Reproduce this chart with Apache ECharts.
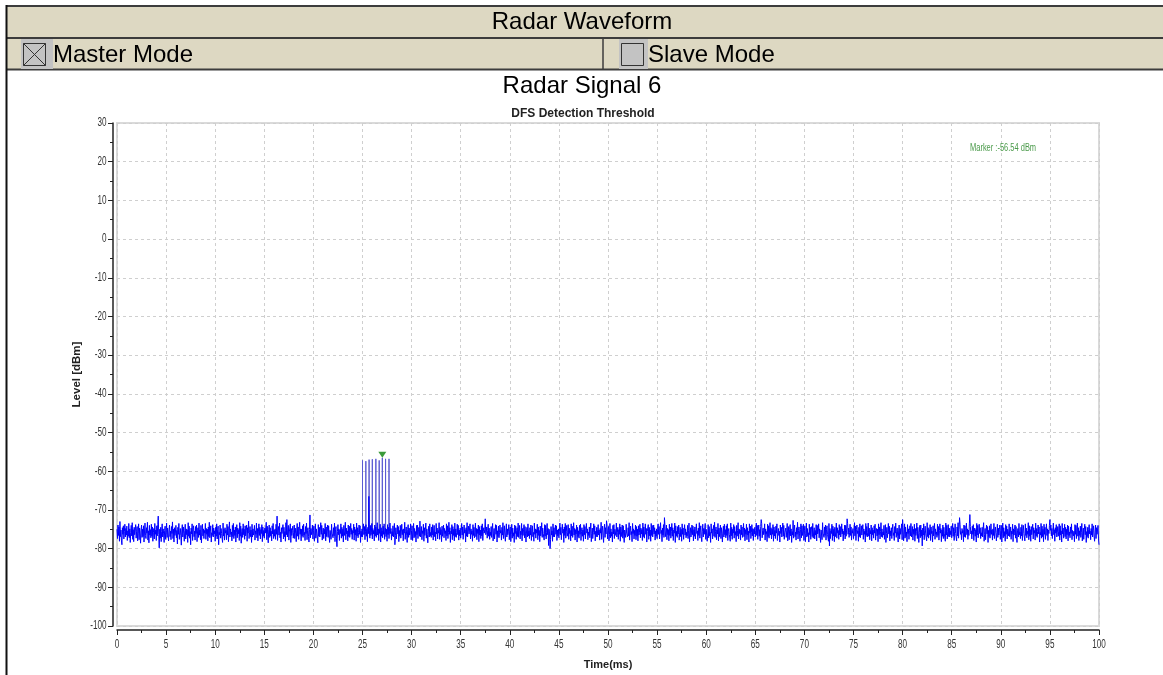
<!DOCTYPE html>
<html>
<head>
<meta charset="utf-8">
<title>Radar Waveform</title>
<script src="https://cdn.jsdelivr.net/npm/echarts@6/dist/echarts.min.js"></script>
<style>
  html, body { margin: 0; padding: 0; background: #ffffff; }
  #chart { width: 1163px; height: 675px; }
</style>
</head>
<body>
<div id="chart"></div>
<script>
// Captured noise floor, one sample every 0.05 ms from 0 to 100 ms (dBm)
const sampleStepMs = 0.05;
const noiseLevel = [
  -75.0,-77.4,-73.9,-76.6,-74.4,-78.1,-73.0,-76.9,-75.2,-77.8,-79.0,-74.6,-76.3,-74.1,-77.5,-75.6,-73.7,-77.0,-74.8,-76.5,
  -74.2,-77.9,-75.4,-76.8,-73.5,-77.2,-74.9,-78.4,-75.8,-74.0,-76.7,-73.3,-77.6,-75.1,-78.2,-74.5,-76.4,-75.9,-73.8,-77.3,
  -75.5,-74.3,-78.0,-76.1,-73.6,-77.7,-74.7,-76.2,-78.6,-75.3,-73.9,-77.1,-75.0,-76.9,-74.1,-78.3,-75.7,-73.4,-76.6,-77.4,
  -74.6,-76.0,-73.2,-77.8,-75.4,-78.5,-74.0,-76.5,-75.1,-77.2,-73.7,-76.8,-74.4,-78.1,-75.9,-74.8,-77.5,-73.5,-76.3,-75.2,
  -77.9,-74.1,-76.7,-73.8,-71.6,-76.4,-79.8,-75.0,-77.3,-74.5,-78.2,-75.6,-73.6,-77.0,-74.9,-76.2,-78.4,-75.3,-74.2,-77.6,
  -75.8,-73.4,-77.1,-74.7,-76.5,-78.0,-75.1,-73.9,-76.9,-75.5,-77.7,-74.3,-76.1,-73.1,-77.4,-75.0,-78.3,-74.6,-76.6,-75.7,
  -74.0,-77.2,-75.3,-78.8,-74.5,-76.3,-73.5,-77.6,-75.9,-74.8,-76.7,-79.1,-75.2,-73.8,-77.0,-74.4,-76.0,-78.1,-75.4,-73.7,
  -77.5,-74.9,-76.4,-75.1,-78.4,-73.3,-76.8,-74.2,-77.3,-75.6,-79.0,-74.7,-76.2,-73.6,-77.9,-75.0,-74.1,-76.9,-75.5,-77.8,
  -74.3,-76.1,-73.9,-78.2,-75.7,-74.6,-77.1,-73.4,-76.5,-75.2,-77.7,-74.0,-78.5,-75.8,-73.7,-76.7,-74.9,-77.4,-75.3,-76.0,
  -73.5,-77.6,-74.8,-76.3,-75.0,-78.0,-74.4,-76.9,-73.2,-77.2,-75.5,-74.1,-78.3,-75.9,-76.6,-73.8,-77.0,-74.7,-76.2,-75.4,
  -78.1,-74.5,-76.8,-73.6,-77.5,-75.1,-74.2,-79.0,-75.8,-76.4,-73.9,-77.3,-74.8,-76.1,-75.6,-78.4,-73.4,-76.7,-75.0,-77.8,
  -74.6,-76.0,-75.3,-77.7,-73.7,-76.5,-74.3,-78.2,-75.4,-73.1,-77.0,-74.9,-76.3,-75.7,-78.0,-74.0,-76.9,-73.5,-77.4,-75.2,
  -76.6,-74.4,-78.3,-75.9,-73.8,-77.2,-74.7,-76.2,-75.1,-77.9,-73.3,-76.8,-74.2,-78.6,-75.5,-74.8,-77.1,-73.6,-76.4,-75.0,
  -77.6,-74.1,-76.7,-75.3,-73.9,-78.1,-74.6,-76.0,-72.9,-77.4,-75.8,-74.3,-76.9,-75.2,-78.4,-73.7,-77.0,-74.9,-76.5,-75.6,
  -74.0,-77.8,-75.4,-76.3,-73.4,-77.2,-74.8,-78.0,-75.7,-73.6,-76.6,-74.5,-77.5,-75.1,-76.1,-73.8,-78.2,-74.4,-76.8,-75.3,
  -77.3,-74.7,-76.0,-75.9,-73.2,-77.7,-74.2,-76.4,-78.5,-75.0,-73.9,-77.1,-74.6,-76.7,-75.5,-78.0,-74.1,-76.2,-73.5,-77.4,
  -75.2,-76.8,-74.9,-77.6,-73.7,-76.3,-71.6,-77.9,-75.4,-74.3,-76.5,-73.4,-77.2,-75.8,-78.3,-74.6,-76.1,-75.0,-73.8,-77.5,
  -74.5,-76.9,-75.6,-78.1,-73.3,-76.4,-72.5,-77.0,-75.1,-74.0,-77.8,-75.7,-76.2,-73.6,-78.4,-74.8,-76.6,-75.3,-74.2,-77.3,
  -75.9,-73.9,-77.4,-74.7,-76.0,-78.2,-75.2,-73.5,-76.8,-74.4,-77.6,-75.5,-73.2,-76.3,-74.9,-78.0,-75.0,-76.7,-74.1,-77.1,
  -73.7,-76.5,-75.8,-77.9,-74.3,-76.1,-73.4,-77.7,-75.3,-74.6,-76.9,-78.3,-75.1,-71.3,-77.2,-74.8,-76.4,-75.6,-73.9,-77.5,
  -75.4,-74.2,-78.1,-76.6,-73.6,-77.3,-74.9,-76.0,-75.7,-78.5,-73.8,-76.8,-74.5,-77.0,-75.2,-73.3,-76.3,-74.0,-77.8,-75.9,
  -74.7,-77.4,-75.0,-76.2,-73.5,-78.0,-74.4,-76.9,-75.5,-73.9,-77.1,-74.1,-76.5,-78.4,-75.3,-74.8,-77.6,-73.7,-76.0,-75.8,
  -77.2,-74.6,-76.7,-73.4,-78.2,-75.1,-74.3,-77.5,-79.5,-75.6,-73.8,-76.4,-74.9,-77.9,-75.2,-76.1,-73.6,-77.3,-74.5,-76.8,
  -75.0,-78.3,-74.0,-76.6,-75.7,-73.2,-77.7,-74.7,-76.2,-75.4,-78.0,-73.9,-76.9,-74.2,-77.1,-75.9,-73.5,-76.3,-74.8,-77.6,
  -75.3,-76.0,-73.7,-77.8,-74.4,-76.5,-75.1,-78.1,-73.4,-76.7,-74.6,-77.2,-75.8,-73.9,-76.3,-74.1,-78.4,-75.5,-76.9,-74.9,
  -77.0,-75.2,-73.6,-76.4,-74.3,-77.7,-75.6,-73.8,-76.8,-75.0,-78.2,-74.5,-76.1,-66.5,-75.4,-77.3,-74.0,-76.6,-75.9,-73.5,
  -77.5,-74.8,-76.2,-75.3,-78.0,-73.9,-76.7,-74.4,-77.1,-75.7,-73.3,-76.5,-74.9,-77.9,-75.1,-76.0,-73.7,-78.3,-74.6,-76.8,
  -75.4,-77.2,-74.2,-76.3,-73.6,-77.6,-75.8,-74.7,-76.9,-75.0,-78.1,-73.8,-76.4,-74.5,-77.4,-75.5,-73.4,-76.1,-74.8,-77.8,
  -75.6,-76.7,-74.1,-77.0,-75.2,-73.5,-79.0,-76.6,-74.6,-77.5,-75.9,-73.9,-76.2,-74.3,-78.2,-75.3,-76.8,-74.0,-77.3,-75.7,
  -73.7,-76.4,-75.1,-78.0,-74.9,-76.0,-73.2,-77.6,-75.5,-74.4,-76.7,-78.4,-75.0,-73.8,-77.1,-74.7,-76.5,-75.8,-73.6,-77.7,
  -75.3,-74.1,-77.9,-76.2,-73.5,-77.2,-74.8,-76.9,-75.6,-78.3,-74.0,-76.4,-73.9,-77.4,-75.1,-74.5,-76.8,-72.9,-77.0,-75.7,
  -74.3,-77.7,-75.4,-76.1,-73.7,-78.1,-74.6,-76.6,-75.0,-73.4,-77.3,-74.9,-76.3,-78.5,-75.5,-74.2,-77.0,-73.6,-76.7,-75.8,
  -77.1,-74.4,-76.5,-73.8,-77.8,-75.2,-74.0,-76.9,-75.7,-78.0,-73.5,-76.2,-74.7,-77.5,-75.3,-76.0,-73.3,-77.6,-74.5,-76.4,
  -75.1,-78.2,-74.2,-76.8,-75.6,-73.9,-77.2,-74.8,-76.1,-75.4,-77.9,-73.6,-76.7,-74.1,-77.4,-75.9,-73.2,-76.3,-74.6,-78.4,
  -75.5,-76.2,-73.8,-77.7,-74.3,-76.6,-75.0,-78.0,-73.4,-76.9,-74.9,-77.1,-75.8,-73.7,-76.4,-74.0,-77.8,-75.2,-76.7,-74.7,
  -77.3,-75.3,-73.5,-76.5,-74.4,-77.6,-75.7,-73.9,-76.0,-75.1,-78.3,-74.6,-76.8,-73.3,-77.0,-75.6,-74.2,-76.2,-75.9,-73.6,
  -77.5,-74.9,-76.3,-75.4,-78.1,-73.8,-76.6,-74.5,-77.2,-75.8,-73.4,-76.9,-74.8,-77.7,-75.0,-76.1,-73.9,-78.2,-74.3,-76.5,
  -75.2,-77.4,-74.1,-76.7,-73.6,-77.9,-75.5,-74.6,-76.0,-75.1,-72.3,-76.4,-75.8,-74.4,-77.3,-75.3,-73.7,-76.8,-74.7,-77.6,
  -75.7,-76.6,-74.3,-77.1,-75.0,-73.5,-78.0,-76.2,-74.8,-77.5,-75.6,-73.8,-76.3,-74.0,-78.3,-75.4,-76.9,-74.2,-77.2,-75.9,
  -73.9,-76.0,-75.3,-77.8,-74.5,-76.5,-73.3,-77.4,-75.7,-74.1,-76.7,-78.1,-75.2,-73.6,-77.0,-74.9,-76.4,-75.5,-73.8,-77.7,
  -75.1,-74.4,-78.2,-76.3,-73.7,-77.3,-74.7,-76.8,-75.9,-78.4,-73.9,-76.1,-74.2,-77.6,-75.3,-74.6,-76.9,-73.4,-77.1,-75.6,
  -74.0,-77.5,-75.5,-76.4,-73.5,-78.0,-74.8,-76.6,-75.0,-73.8,-77.2,-74.3,-76.2,-78.3,-75.7,-74.5,-77.0,-73.6,-76.7,-75.4,
  -77.4,-74.6,-76.5,-73.9,-77.9,-75.2,-74.1,-76.9,-75.8,-78.1,-73.4,-76.3,-74.9,-77.3,-75.1,-76.0,-73.7,-77.7,-74.4,-76.6,
  -75.3,-78.2,-74.2,-76.7,-75.5,-73.3,-77.1,-74.7,-76.1,-75.6,-77.8,-73.8,-76.8,-74.0,-77.5,-75.9,-73.5,-76.4,-74.8,-79.2,
  -75.0,-76.2,-80.0,-77.6,-74.3,-76.5,-75.4,-78.1,-73.6,-76.9,-74.6,-77.0,-75.7,-73.9,-76.3,-74.1,-77.9,-75.2,-76.7,-74.9,
  -77.2,-75.5,-73.4,-76.4,-74.5,-77.7,-75.8,-73.7,-76.0,-75.0,-78.4,-74.4,-76.6,-73.5,-77.3,-75.6,-74.0,-76.8,-75.9,-73.8,
  -77.6,-74.7,-76.1,-75.3,-78.0,-73.6,-76.7,-74.2,-77.1,-75.9,-73.3,-76.5,-74.8,-77.8,-75.1,-76.2,-73.9,-78.3,-74.5,-76.9,
  -75.4,-77.3,-74.0,-76.3,-73.7,-77.9,-75.6,-74.6,-76.8,-75.2,-78.1,-73.8,-76.4,-74.3,-77.5,-75.3,-73.5,-76.0,-74.9,-77.7,
  -75.7,-76.6,-74.4,-77.2,-75.0,-73.4,-78.2,-76.1,-74.7,-77.4,-75.8,-73.6,-76.3,-74.1,-78.0,-75.5,-76.9,-74.5,-77.0,-75.1,
  -73.8,-76.5,-75.2,-77.8,-74.8,-76.0,-73.2,-77.6,-75.4,-74.2,-76.7,-78.4,-75.0,-73.7,-77.1,-74.6,-76.2,-72.8,-73.9,-77.5,
  -75.3,-74.3,-78.0,-76.4,-73.5,-77.2,-74.9,-76.8,-75.7,-78.3,-74.0,-76.2,-73.8,-77.4,-75.0,-74.7,-76.6,-73.4,-77.0,-75.8,
  -74.5,-77.6,-75.1,-76.3,-73.6,-78.1,-74.4,-76.9,-75.5,-73.9,-77.3,-74.1,-76.5,-78.4,-75.2,-74.8,-77.1,-73.7,-76.0,-75.9,
  -77.0,-74.6,-76.7,-73.3,-77.8,-75.4,-74.2,-76.4,-75.6,-78.2,-73.5,-76.1,-74.9,-77.5,-75.3,-76.6,-73.9,-77.7,-74.3,-76.8,
  -75.0,-78.0,-74.1,-76.5,-75.8,-73.7,-77.2,-74.7,-76.2,-75.1,-77.9,-73.4,-76.9,-74.4,-77.3,-75.7,-73.6,-76.3,-74.8,-78.3,
  -75.6,-76.0,-73.8,-77.6,-74.5,-76.7,-75.2,-78.1,-73.5,-76.6,-74.0,-77.0,-75.9,-73.9,-76.2,-74.6,-77.8,-75.4,-76.8,-74.9,
  -77.4,-75.0,-73.6,-76.3,-74.3,-77.5,-75.5,-73.3,-76.1,-75.3,-78.2,-74.7,-76.5,-73.8,-77.1,-72.0,-74.2,-76.9,-75.7,-73.9,
  -77.7,-74.8,-76.4,-75.1,-78.0,-73.7,-76.6,-74.4,-77.3,-75.6,-73.5,-76.8,-74.6,-77.9,-75.2,-76.0,-73.4,-78.4,-74.1,-76.7,
  -75.5,-77.1,-74.3,-76.2,-73.9,-77.8,-75.9,-74.5,-76.9,-75.0,-78.1,-73.6,-76.3,-74.7,-77.6,-75.4,-73.8,-76.5,-74.9,-77.2,
  -75.8,-76.7,-74.0,-77.4,-75.3,-73.4,-78.3,-76.0,-74.6,-77.0,-75.7,-73.9,-76.4,-74.2,-78.0,-75.1,-76.8,-74.4,-77.5,-75.6,
  -73.6,-76.1,-75.4,-77.9,-74.7,-76.6,-73.3,-77.3,-75.2,-74.1,-76.9,-78.2,-75.5,-73.7,-77.0,-74.8,-76.3,-75.9,-73.5,-77.6,
  -75.0,-74.5,-78.1,-76.5,-73.8,-77.2,-74.3,-76.7,-75.8,-78.4,-73.6,-76.0,-74.9,-77.5,-75.3,-74.0,-76.8,-73.2,-77.1,-75.6,
  -74.4,-77.7,-75.2,-76.2,-73.5,-78.0,-74.7,-76.9,-75.4,-73.9,-77.4,-74.6,-76.1,-78.3,-75.7,-74.2,-77.0,-73.7,-76.4,-75.1,
  -77.2,-74.1,-76.6,-73.6,-77.9,-75.5,-74.8,-76.3,-75.9,-78.1,-73.4,-76.7,-74.5,-77.6,-75.0,-76.0,-73.8,-77.3,-74.3,-76.5,
  -75.6,-78.2,-74.0,-76.8,-75.3,-73.3,-77.5,-74.9,-76.1,-75.2,-77.8,-73.9,-76.4,-74.4,-77.1,-75.8,-73.5,-76.9,-74.7,-78.0,
  -75.1,-76.3,-73.7,-77.7,-74.6,-76.5,-75.5,-78.3,-73.6,-76.0,-74.2,-77.4,-75.9,-73.8,-76.7,-74.8,-77.9,-75.0,-76.2,-74.5,
  -77.0,-75.4,-73.4,-76.6,-74.0,-77.6,-75.7,-73.9,-76.8,-75.1,-78.0,-74.3,-72.5,-73.5,-77.2,-75.3,-74.7,-76.4,-75.8,-73.6,
  -77.8,-74.9,-76.2,-75.6,-78.2,-73.7,-76.9,-74.1,-77.3,-75.2,-73.3,-76.5,-74.6,-77.5,-75.0,-76.3,-73.8,-78.1,-74.4,-76.7,
  -75.3,-77.4,-74.2,-76.0,-73.6,-77.9,-75.8,-74.8,-76.6,-75.5,-78.3,-73.9,-76.1,-74.5,-77.0,-75.1,-73.4,-76.8,-74.0,-77.6,
  -75.9,-76.4,-74.7,-77.1,-75.4,-73.5,-78.0,-76.2,-74.3,-77.7,-75.0,-73.8,-76.7,-74.9,-78.4,-75.6,-76.5,-72.7,-77.3,-75.2,
  -73.9,-76.9,-75.7,-77.8,-74.6,-76.3,-73.2,-77.5,-75.3,-74.4,-76.0,-78.1,-75.1,-73.6,-77.2,-74.1,-76.6,-75.5,-73.7,-77.9,
  -75.4,-74.2,-78.2,-76.1,-73.4,-77.0,-74.8,-76.7,-75.9,-78.3,-73.7,-76.4,-74.5,-77.6,-75.0,-74.3,-76.9,-73.5,-77.3,-75.7,
  -74.6,-77.5,-75.3,-76.5,-73.8,-78.0,-74.0,-76.2,-75.6,-73.6,-77.2,-74.9,-76.8,-78.4,-75.2,-74.7,-77.7,-73.3,-76.0,-75.5,
  -77.1,-74.4,-76.6,-73.9,-77.8,-75.1,-74.1,-76.3,-75.8,-78.1,-73.5,-79.3,-74.8,-77.4,-75.4,-76.1,-73.7,-77.9,-74.2,-76.7,
  -75.0,-78.2,-74.5,-76.9,-75.7,-73.4,-77.3,-74.6,-76.0,-75.3,-77.6,-73.8,-76.5,-74.3,-77.0,-75.9,-73.6,-76.2,-74.9,-78.0,
  -75.5,-76.4,-73.9,-77.5,-74.0,-76.8,-75.2,-72.3,-73.5,-76.3,-74.7,-77.1,-75.8,-73.7,-76.6,-74.4,-77.8,-75.3,-76.0,-74.8,
  -77.4,-75.6,-73.3,-76.7,-74.2,-77.9,-75.0,-73.9,-76.1,-75.4,-78.1,-74.5,-76.9,-73.6,-77.2,-75.7,-74.1,-76.5,-75.1,-73.8,
  -77.6,-74.9,-76.3,-75.5,-78.3,-73.5,-76.6,-74.3,-77.0,-75.9,-73.4,-76.8,-74.7,-77.7,-75.3,-76.2,-73.9,-78.0,-74.6,-76.4,
  -75.2,-77.3,-74.1,-76.0,-73.7,-77.8,-75.5,-74.8,-76.7,-75.0,-78.2,-73.6,-76.4,-74.4,-77.5,-75.6,-73.3,-76.9,-74.9,-77.1,
  -75.7,-76.5,-74.0,-77.6,-75.3,-73.8,-78.4,-76.1,-74.5,-77.2,-75.8,-73.5,-76.2,-74.2,-78.0,-75.4,-76.7,-74.6,-77.4,-75.1,
  -73.7,-76.6,-75.9,-77.9,-74.3,-76.0,-73.4,-77.1,-75.6,-74.7,-76.8,-78.3,-75.2,-73.9,-77.5,-74.8,-76.3,-75.0,-73.6,-77.7,
  -72.5,-74.6,-78.0,-76.4,-73.6,-77.3,-74.4,-76.9,-75.7,-78.2,-73.8,-76.1,-74.9,-77.6,-75.3,-74.1,-76.7,-73.5,-77.0,-75.5,
  -74.3,-77.8,-75.0,-76.3,-73.7,-78.1,-74.8,-76.6,-75.6,-73.4,-77.4,-74.5,-76.0,-78.4,-75.8,-74.0,-77.2,-73.9,-76.8,-75.2,
  -79.3,-74.7,-76.5,-73.6,-77.7,-75.4,-74.2,-76.2,-75.9,-78.0,-73.3,-76.9,-74.6,-77.3,-75.1,-76.4,-73.8,-77.9,-74.4,-76.1,
  -75.5,-78.3,-74.1,-76.7,-75.0,-73.5,-77.6,-74.9,-76.3,-75.7,-77.1,-73.7,-76.6,-74.3,-77.8,-75.3,-73.6,-76.0,-74.8,-78.2,
  -75.2,-76.8,-73.9,-77.4,-74.5,-76.2,-75.8,-78.1,-73.4,-76.5,-74.0,-77.5,-75.6,-73.8,-76.9,-74.7,-77.0,-75.4,-76.4,-74.2,
  -77.2,-75.1,-73.5,-76.8,-74.6,-77.9,-75.5,-73.6,-76.1,-75.9,-78.0,-74.4,-76.7,-73.3,-77.3,-75.0,-72.0,-73.7,-76.3,-75.6,
  -77.7,-74.8,-76.0,-75.3,-78.2,-73.9,-76.9,-74.1,-77.1,-75.7,-73.4,-76.4,-74.9,-77.6,-75.2,-76.6,-73.6,-71.2,-74.3,-76.2,
  -75.4,-77.5,-74.2,-76.3,-73.8,-77.9,-75.6,-74.7,-76.8,-75.1,-78.3,-73.5,-76.5,-74.0,-77.2,-75.8,-73.7,-76.1,-74.6,-77.4,
  -75.9,-76.7,-74.5,-77.0,-75.0,-73.3,-78.1,-76.4,-74.8,-77.7,-75.5,-73.9,-76.2,-74.3,-78.4,-75.3,-76.9,-74.1,-77.3,-75.7,
  -73.6,-76.3,-75.2,-77.8,-74.9,-76.6,-73.5,-77.4,-75.4,-74.4,-76.0,-78.0,-75.8,-73.7,-77.1,-74.7,-76.5,-75.1,-73.9,-77.6,
  -75.3,-74.0,-78.3,-76.0,-73.4,-77.2,-74.6,-76.8,-75.6,-78.1,-73.8,-76.3,-74.2,-77.5,-75.0,-74.5,-76.7,-73.6,-76.9,-75.9,
  -74.4,-77.6,-75.5,-76.2,-73.7,-78.2,-74.9,-76.5,-75.1,-73.9,-77.3,-74.3,-76.9,-78.4,-75.4,-74.8,-77.0,-73.5,-76.4,-75.7,
  -77.4,-74.5,-76.7,-73.8,-77.9,-75.2,-74.0,-76.1,-75.7,-78.0,-73.6,-76.6,-74.7,-77.2,-75.5,-76.3,-73.3,-77.7,-74.1,-76.8,
  -75.1,-78.1,-74.3,-76.4,-75.9,-73.7,-77.5,-74.6,-76.0,-75.3,-77.8,-73.4,-76.7,-74.8,-77.1,-75.6,-73.9,-76.2,-74.4,-78.3,
  -75.8,-76.5,-73.5,-77.3,-74.2,-76.9,-75.0,-78.2,-73.7,-76.3,-74.5,-77.6,-75.4,-73.6,-76.6,-74.9,-77.9,-75.2,-76.1,-74.0,
  -72.5,-75.3,-73.9,-76.7,-74.8,-77.4,-75.6,-73.4,-76.4,-75.1,-78.1,-74.6,-76.0,-73.8,-77.0,-75.8,-74.3,-76.8,-75.5,-73.6,
  -77.8,-74.1,-76.5,-75.4,-78.3,-73.5,-76.2,-74.7,-77.3,-75.9,-73.7,-76.9,-74.5,-77.5,-75.0,-76.4,-73.9,-78.0,-74.2,-76.6,
  -75.7,-77.2,-74.4,-76.1,-73.6,-77.7,-75.3,-74.9,-76.7,-75.5,-78.2,-73.8,-76.3,-74.0,-77.4,-75.2,-73.4,-76.8,-74.6,-77.9,
  -75.4,-76.6,-74.2,-77.1,-75.8,-73.5,-78.0,-76.0,-74.7,-77.6,-75.1,-73.7,-76.4,-74.3,-78.4,-75.6,-76.9,-74.5,-77.3,-75.0,
  -73.8,-76.2,-75.5,-77.7,-74.8,-76.5,-73.6,-77.0,-75.3,-74.1,-76.8,-78.1,-75.9,-73.9,-77.4,-74.6,-76.3,-75.2,-74.0,-77.5,
  -79.0
];

// Radar burst: pulse times (ms) and peak levels (dBm)
const pulseTimes = [25.0, 25.34, 25.67, 26.0, 26.36, 26.7, 27.02, 27.35, 27.7];
const pulsePeaks = [-57.2, -57.4, -57.0, -56.9, -56.8, -57.2, -56.54, -56.8, -56.8];
const pulseFloor = -76.0;

// Peak marker
const markerTime = 27.02;
const markerLevel = -56.54;

// Axis ranges and tick labels
const xRange = { min: 0, max: 100, interval: 5 };
const yRange = { min: -100, max: 30, interval: 10 };
const xTickLabels = [0, 5, 10, 15, 20, 25, 30, 35, 40, 45, 50, 55, 60, 65, 70, 75, 80, 85, 90, 95, 100];
const yTickLabels = [-100, -90, -80, -70, -60, -50, -40, -30, -20, -10, 0, 10, 20, 30];

const noiseData = noiseLevel.map((v, i) => [Math.round(i * sampleStepMs * 1000) / 1000, v]);
const pulseData = [];
pulseTimes.forEach((t, i) => {
  pulseData.push([t, pulseFloor], [t, pulsePeaks[i]], [t, pulseFloor]);
});

const sans = "'Liberation Sans', Arial, sans-serif";
const frameColor = '#3c3c3c';
const headerFill = '#ddd8c2';
const axisInk = '#222222';
const labelInk = '#333333';
// the plot's small lettering is a tall, condensed face
const condensed = 0.68;

const chart = echarts.init(document.getElementById('chart'), null, { renderer: 'canvas' });

const headerGraphics = [
  { type: 'rect', shape: { x: 6, y: 5, width: 1157, height: 65 }, style: { fill: headerFill }, z: 1 },
  { type: 'line', shape: { x1: 6, y1: 6, x2: 1163, y2: 6 }, style: { stroke: frameColor, lineWidth: 2 }, z: 2 },
  { type: 'line', shape: { x1: 6, y1: 38, x2: 1163, y2: 38 }, style: { stroke: frameColor, lineWidth: 2 }, z: 2 },
  { type: 'line', shape: { x1: 6, y1: 69.5, x2: 1163, y2: 69.5 }, style: { stroke: frameColor, lineWidth: 2 }, z: 2 },
  { type: 'line', shape: { x1: 6.5, y1: 5, x2: 6.5, y2: 675 }, style: { stroke: '#111', lineWidth: 2 }, z: 2 },
  { type: 'line', shape: { x1: 603, y1: 38, x2: 603, y2: 70 }, style: { stroke: frameColor, lineWidth: 1.5 }, z: 2 },
  { type: 'text', x: 582, y: 22, style: { text: 'Radar Waveform', fontFamily: sans, fontSize: 24, fill: '#000', textAlign: 'center', textVerticalAlign: 'middle' }, z: 3 },
  // master mode checkbox (checked)
  { type: 'rect', shape: { x: 21, y: 39, width: 32, height: 30 }, style: { fill: '#c3c3c3' }, z: 2 },
  { type: 'rect', shape: { x: 23.5, y: 43.5, width: 22, height: 22 }, style: { fill: 'none', stroke: '#333', lineWidth: 1 }, z: 3 },
  { type: 'line', shape: { x1: 23.5, y1: 43.5, x2: 45.5, y2: 65.5 }, style: { stroke: '#333', lineWidth: 1 }, z: 3 },
  { type: 'line', shape: { x1: 45.5, y1: 43.5, x2: 23.5, y2: 65.5 }, style: { stroke: '#333', lineWidth: 1 }, z: 3 },
  { type: 'text', x: 53, y: 55, style: { text: 'Master Mode', fontFamily: sans, fontSize: 24, fill: '#000', textAlign: 'left', textVerticalAlign: 'middle' }, z: 3 },
  // slave mode checkbox (unchecked)
  { type: 'rect', shape: { x: 619, y: 39, width: 29, height: 30 }, style: { fill: '#c3c3c3' }, z: 2 },
  { type: 'rect', shape: { x: 621.5, y: 43.5, width: 22, height: 22 }, style: { fill: 'none', stroke: '#333', lineWidth: 1 }, z: 3 },
  { type: 'text', x: 648, y: 55, style: { text: 'Slave Mode', fontFamily: sans, fontSize: 24, fill: '#000', textAlign: 'left', textVerticalAlign: 'middle' }, z: 3 },
  // chart headings
  { type: 'text', x: 582, y: 86, style: { text: 'Radar Signal 6', fontFamily: sans, fontSize: 24, fill: '#000', textAlign: 'center', textVerticalAlign: 'middle' }, z: 3 },
  { type: 'text', x: 583, y: 114, style: { text: 'DFS Detection Threshold', fontFamily: sans, fontWeight: 'bold', fontSize: 12, fill: '#222', textAlign: 'center', textVerticalAlign: 'middle' }, z: 3 },
  { type: 'text', x: 970, y: 148, scaleX: condensed, style: { text: 'Marker :' + markerLevel.toFixed(2) + ' dBm', fontFamily: sans, fontSize: 11, fill: '#4a9a4a', textAlign: 'left', textVerticalAlign: 'middle' }, z: 3 }
];

chart.setOption({
  animation: false,
  backgroundColor: '#ffffff',
  grid: {
    left: 117, top: 123, width: 982, height: 503,
    show: true, borderColor: '#dadada', borderWidth: 2, backgroundColor: '#ffffff'
  },
  xAxis: {
    type: 'value',
    min: xRange.min, max: xRange.max, interval: xRange.interval,
    offset: 4,
    name: 'Time(ms)',
    nameLocation: 'middle',
    nameGap: 29,
    nameTextStyle: { fontFamily: sans, fontWeight: 'bold', fontSize: 11, color: axisInk },
    axisLine: { show: true, onZero: false, lineStyle: { color: axisInk, width: 1.5 } },
    axisTick: { show: true, inside: false, length: 5, lineStyle: { color: axisInk } },
    minorTick: { show: true, splitNumber: 2, length: 3, lineStyle: { color: axisInk } },
    axisLabel: { show: false },
    splitLine: { show: true, lineStyle: { color: '#cfcfcf', type: [3, 3], width: 1 } }
  },
  yAxis: {
    type: 'value',
    min: yRange.min, max: yRange.max, interval: yRange.interval,
    offset: 4,
    name: 'Level [dBm]',
    nameLocation: 'middle',
    nameGap: 30,
    nameRotate: 90,
    nameTextStyle: { fontFamily: sans, fontWeight: 'bold', fontSize: 11.5, color: axisInk },
    axisLine: { show: true, onZero: false, lineStyle: { color: axisInk, width: 1.5 } },
    axisTick: { show: true, inside: false, length: 5, lineStyle: { color: axisInk } },
    minorTick: { show: true, splitNumber: 2, length: 3, lineStyle: { color: axisInk } },
    axisLabel: { show: false },
    splitLine: { show: true, lineStyle: { color: '#cfcfcf', type: [3, 3], width: 1 } }
  },
  series: [
    {
      name: 'Pulses',
      type: 'line',
      data: pulseData,
      symbol: 'none',
      z: 2,
      lineStyle: { color: '#5b5bd2', width: 1 },
      markPoint: {
        symbol: 'triangle',
        symbolSize: [8, 6],
        symbolRotate: 180,
        symbolOffset: [0, -3],
        itemStyle: { color: '#3a9a3a' },
        label: { show: false },
        data: [{ coord: [markerTime, markerLevel] }]
      }
    },
    {
      name: 'Level',
      type: 'line',
      data: noiseData,
      symbol: 'none',
      z: 3,
      lineStyle: { color: '#0000ff', width: 1 }
    }
  ],
  graphic: headerGraphics
});

// Tick labels in the condensed lettering, placed through the axis scales
const xAxisY = chart.convertToPixel({ yAxisIndex: 0 }, yRange.min) + 4;
const yAxisX = chart.convertToPixel({ xAxisIndex: 0 }, xRange.min) - 4;
const tickGraphics = [];
xTickLabels.forEach(v => {
  tickGraphics.push({
    type: 'text', x: chart.convertToPixel({ xAxisIndex: 0 }, v), y: xAxisY + 15, scaleX: condensed, silent: true,
    style: { text: String(v), fontFamily: sans, fontSize: 12, fill: labelInk, textAlign: 'center', textVerticalAlign: 'middle' }, z: 3
  });
});
yTickLabels.forEach(v => {
  tickGraphics.push({
    type: 'text', x: yAxisX - 6.5, y: chart.convertToPixel({ yAxisIndex: 0 }, v), scaleX: condensed, silent: true,
    style: { text: String(v), fontFamily: sans, fontSize: 12, fill: labelInk, textAlign: 'right', textVerticalAlign: 'middle' }, z: 3
  });
});
chart.setOption({ graphic: headerGraphics.concat(tickGraphics) });
</script>
</body>
</html>
